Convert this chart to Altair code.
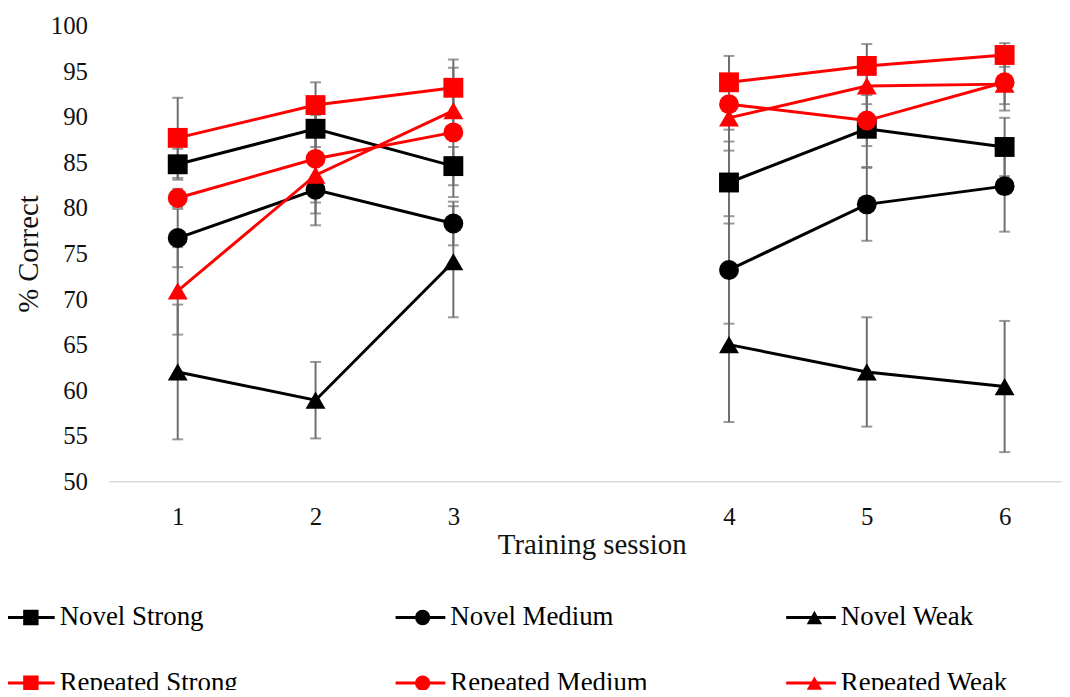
import altair as alt
import pandas as pd

# ---- data ----
sessions = ["1", "2", "3", "4", "5", "6"]
blocks = [1, 1, 1, 2, 2, 2]
x_domain = ["1", "2", "3", " ", "4", "5", "6"]

series_names = ["Novel Strong", "Novel Medium", "Novel Weak",
                "Repeated Strong", "Repeated Medium", "Repeated Weak"]
series_groups = ["Novel", "Novel", "Novel", "Repeated", "Repeated", "Repeated"]
series_colors = ["#000000", "#000000", "#000000", "#ff0000", "#ff0000", "#ff0000"]
series_shapes = ["square", "circle", "triangle-up", "square", "circle", "triangle-up"]

novel_strong = [84.8, 88.7, 84.6, 82.8, 88.7, 86.7]
novel_medium = [76.7, 82.0, 78.3, 73.2, 80.4, 82.4]
novel_weak = [62.0, 58.9, 74.1, 65.0, 62.0, 60.4]
repeated_strong = [87.7, 91.3, 93.2, 93.8, 95.6, 96.8]
repeated_medium = [81.1, 85.4, 88.3, 91.4, 89.6, 93.8]
repeated_weak = [70.9, 83.6, 90.7, 89.9, 93.4, 93.6]

err_novel_strong = [1.7, 2.0, 2.1, 4.5, 4.2, 3.2]
err_novel_medium = [3.2, 3.9, 2.4, 5.9, 4.0, 5.0]
err_novel_weak = [7.4, 4.2, 6.1, 8.5, 6.0, 7.2]
err_repeated_strong = [4.4, 2.5, 3.1, 2.9, 2.4, 1.3]
err_repeated_medium = [1.0, 4.8, 7.1, 2.8, 2.8, 2.4]
err_repeated_weak = [4.8, 4.2, 2.5, 3.6, 2.0, 2.9]

values = [novel_strong, novel_medium, novel_weak,
          repeated_strong, repeated_medium, repeated_weak]
errors = [err_novel_strong, err_novel_medium, err_novel_weak,
          err_repeated_strong, err_repeated_medium, err_repeated_weak]

rows = []
for name, grp, vals, errs in zip(series_names, series_groups, values, errors):
    for s, b, v, e in zip(sessions, blocks, vals, errs):
        rows.append({"series": name, "group": grp, "session": s, "block": b,
                     "value": v, "lo": round(v - e, 2), "hi": round(v + e, 2)})
df = pd.DataFrame(rows)

FONT = "Liberation Serif"
TXT = "#111111"
ERR = "#6e6e6e"

x_enc = alt.X(
    "session:O",
    scale=alt.Scale(type="point", domain=x_domain, padding=0.4596, align=0.547),
    axis=alt.Axis(title="Training session", labelAngle=0, ticks=False, tickSize=0,
                  grid=False, domainColor="#d9d9d9", domainWidth=1.5,
                  labelFont=FONT, labelFontSize=25, labelColor=TXT, labelPadding=24,
                  titleFont=FONT, titleFontSize=29, titleFontWeight="normal",
                  titleColor=TXT, titleX=486, titleY=73, titleBaseline="alphabetic"),
)

y_scale = alt.Scale(domain=[50, 100], nice=False, zero=False)
y_axis = alt.Axis(title="% Correct", values=list(range(50, 101, 5)), grid=False,
                  domain=False, ticks=False, tickSize=0, labelPadding=21,
                  labelFont=FONT, labelFontSize=25, labelColor=TXT,
                  titleFont=FONT, titleFontSize=29, titleFontWeight="normal",
                  titleColor=TXT, titleX=-71, titleY=229, titleBaseline="alphabetic")

base = alt.Chart(df)

err_rule = base.mark_rule(color=ERR, strokeWidth=2).encode(
    x=x_enc, y=alt.Y("lo:Q", scale=y_scale, axis=y_axis), y2="hi:Q")
cap_lo = base.mark_tick(color=ERR, orient="horizontal", size=11, thickness=2).encode(
    x=x_enc, y=alt.Y("lo:Q", scale=y_scale, axis=y_axis))
cap_hi = base.mark_tick(color=ERR, orient="horizontal", size=11, thickness=2).encode(
    x=x_enc, y=alt.Y("hi:Q", scale=y_scale, axis=y_axis))

LEG_Y = 580
ROW_STEP = 66
leg_common = dict(title=None, orient="none", direction="horizontal",
                  columns=3, labelFont=FONT, labelFontSize=27, labelColor="#000000",
                  labelLimit=400, rowPadding=36, clipHeight=30, gridAlign="all",
                  padding=0, symbolOpacity=1)

leg_lines = alt.Legend(legendX=-105.5, legendY=LEG_Y, symbolType="stroke",
                       symbolSize=2500, symbolStrokeWidth=3, labelOffset=3.5,
                       columnPadding=136.8, **leg_common)


def marks_legend(row, fill):
    return alt.Legend(legendX=-91.5, legendY=LEG_Y + row * ROW_STEP, symbolSize=240,
                      symbolStrokeWidth=0, symbolFillColor=fill, labelOffset=0,
                      labelExpr="''", columnPadding=367, **leg_common)


lines = base.mark_line(strokeWidth=3, opacity=1).encode(
    x=x_enc,
    y=alt.Y("value:Q", scale=y_scale, axis=y_axis),
    color=alt.Color("series:N", scale=alt.Scale(domain=series_names, range=series_colors),
                    legend=leg_lines),
    detail="block:N",
)

point_layers = []
for row, grp in enumerate(["Novel", "Repeated"]):
    idx = [i for i, g in enumerate(series_groups) if g == grp]
    names = [series_names[i] for i in idx]
    shapes = [series_shapes[i] for i in idx]
    col = series_colors[idx[0]]
    point_layers.append(
        base.transform_filter(alt.datum.group == grp)
        .mark_point(filled=True, size=400, opacity=1, color=col)
        .encode(
            x=x_enc,
            y=alt.Y("value:Q", scale=y_scale, axis=y_axis),
            shape=alt.Shape("series:N", scale=alt.Scale(domain=names, range=shapes),
                            legend=marks_legend(row, col)),
        )
    )

chart = (
    alt.layer(err_rule, cap_lo, cap_hi, lines, *point_layers)
    .resolve_scale(shape="independent")
    .properties(width=959, height=458,
                autosize=alt.AutoSizeParams(type="none"),
                padding={"left": 101, "top": 16, "right": 0, "bottom": 208})
    .configure_view(stroke=None)
)

chart.save("out.html", embed_options={"renderer": "svg", "actions": False})
